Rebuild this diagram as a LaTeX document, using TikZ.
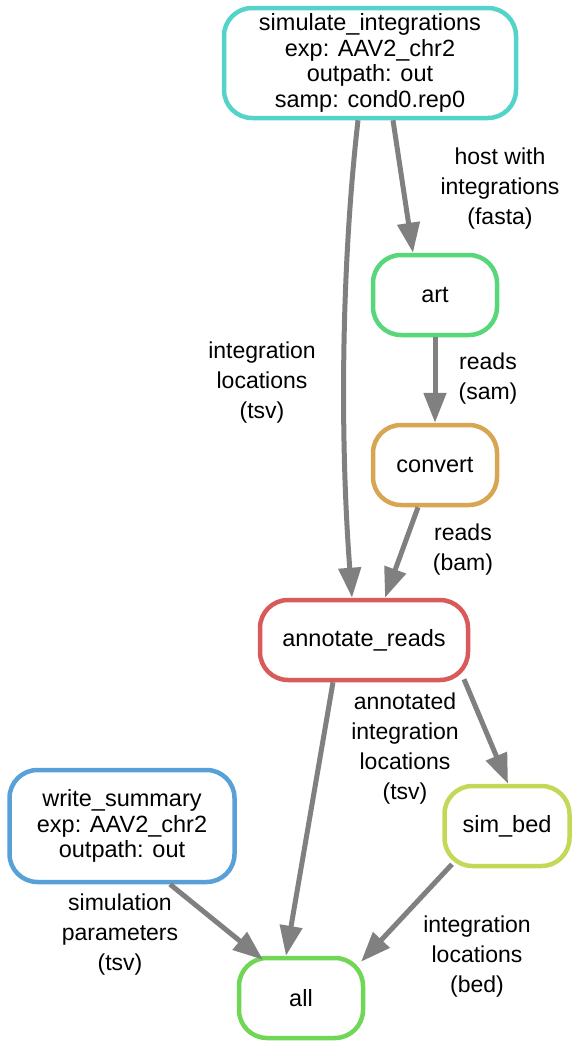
\documentclass[tikz,border=0pt]{standalone}
\usepackage{fontspec}
\setmainfont{Liberation Sans}
\usetikzlibrary{arrows.meta}
\definecolor{cSim}{RGB}{84,212,200}
\definecolor{cArt}{RGB}{88,214,122}
\definecolor{cConv}{RGB}{216,166,82}
\definecolor{cAnn}{RGB}{216,90,90}
\definecolor{cWrite}{RGB}{88,160,216}
\definecolor{cBed}{RGB}{196,216,88}
\definecolor{cAll}{RGB}{112,214,86}
\definecolor{edgegray}{RGB}{128,128,128}
\begin{document}
\begin{tikzpicture}[x=1pt,y=-1pt,
  job/.style={draw, line width=4.5pt, rounded corners=28pt, align=center,
    inner sep=0pt, font=\fontsize{23.5}{25.5}\selectfont, text=black, fill=white},
  lbl/.style={align=center, inner sep=0pt, font=\fontsize{23}{30}\selectfont},
  flow/.style={draw=edgegray, line width=5pt, -{Triangle[length=30pt,width=22pt]}}]
\useasboundingbox (0,0) rectangle (581,1045);

% rule nodes
\node[job, draw=cSim, minimum width=292pt, minimum height=110pt] (sim) at (370,63)
  {simulate\_integrations\\exp: AAV2\_chr2\\outpath: out\\samp: cond0.rep0};
\node[job, draw=cArt, minimum width=124pt, minimum height=80pt] (art) at (435,295) {art};
\node[job, draw=cConv, minimum width=124pt, minimum height=80pt] (conv) at (435,465) {convert};
\node[job, draw=cAnn, minimum width=208pt, minimum height=80pt] (ann) at (364,640) {annotate\_reads};
\node[job, draw=cWrite, minimum width=225pt, minimum height=112pt] (ws) at (122,826)
  {write\_summary\\exp: AAV2\_chr2\\outpath: out};
\node[job, draw=cBed, minimum width=125pt, minimum height=80pt] (bed) at (507,826) {sim\_bed};
\node[job, draw=cAll, minimum width=124pt, minimum height=80pt] (all) at (301,998) {all};

% edge labels
\node[lbl] (l1) at (500,189) {host with\\integrations\\(fasta)};
\node[lbl] (l2) at (262,383) {integration\\locations\\(tsv)};
\node[lbl] (l3) at (488,379) {reads\\(sam)};
\node[lbl] (l4) at (463,550) {reads\\(bam)};
\node[lbl] (l5) at (405,749) {annotated\\integration\\locations\\(tsv)};
\node[lbl] (l6) at (120,935) {simulation\\parameters\\(tsv)};
\node[lbl] (l7) at (477,957) {integration\\locations\\(bed)};

% connectors
\draw[flow] ([xshift=23pt]sim.south) -- ([xshift=-22pt]art.north);
\draw[flow] ([xshift=-12pt]sim.south) .. controls (341,270) and (340,440) .. ([xshift=-12pt]ann.north);
\draw[flow] (art.south) -- (conv.north);
\draw[flow] ([xshift=-17pt]conv.south) -- ([xshift=21pt]ann.north);
\draw[flow] ([xshift=-31pt]ann.south) -- ([xshift=-15pt]all.north);
\draw[flow] ([xshift=100pt,yshift=3pt]ann.south) -- ([xshift=1pt]bed.north);
\draw[flow] ([xshift=48pt]ws.south) -- ([xshift=-38pt,yshift=-4pt]all.north);
\draw[flow] ([xshift=-55pt,yshift=4pt]bed.south) -- ([xshift=60pt,yshift=-6pt]all.north);
\end{tikzpicture}
\end{document}
